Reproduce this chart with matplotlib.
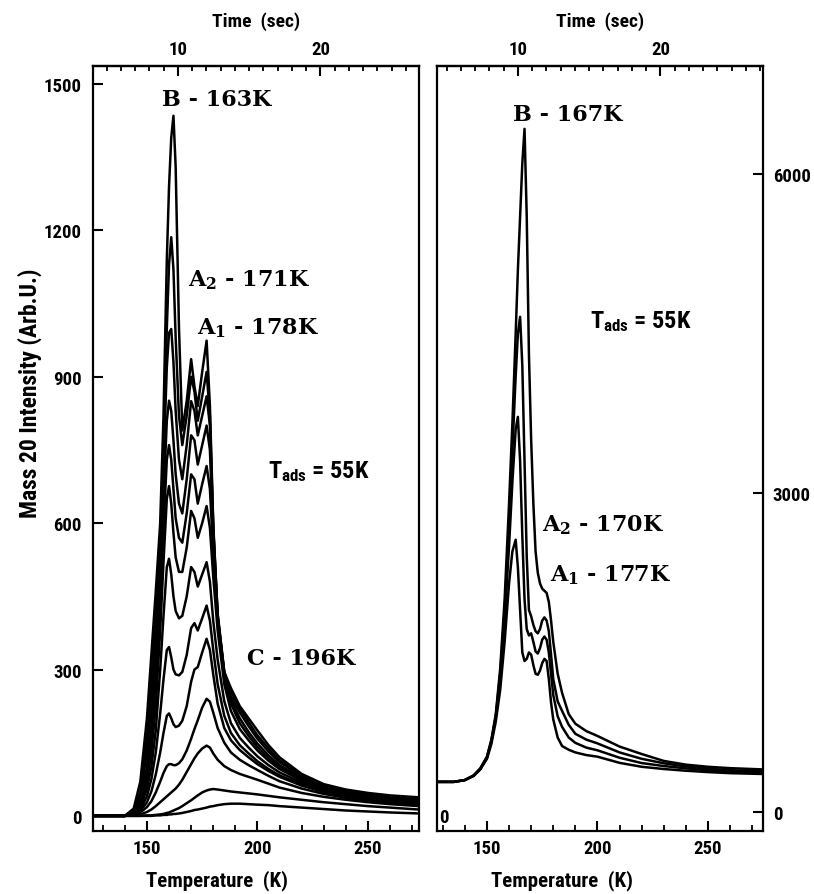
import matplotlib
matplotlib.use("Agg")
import matplotlib.pyplot as plt
from matplotlib.ticker import MultipleLocator, FixedLocator
from matplotlib import font_manager as fm

# ---------------- data ----------------
T_left = [125, 135, 140, 144, 147, 150, 152, 154, 156, 157.5, 159, 160, 161, 162, 163,
          164.5, 166, 168, 170, 171.5, 173, 175, 177, 178.5, 180, 182, 185, 188, 192, 196,
          200, 205, 210, 220, 230, 240, 250, 260, 273]

left_c1 = [0, 0, 0, 0, 0, 0, 0, 1, 1, 2, 2, 3, 3, 4, 4, 5, 6, 8, 10, 12, 13, 15, 17, 19, 20,
           22, 24, 25, 25, 24, 23, 22, 20, 17, 14, 11, 9, 7, 5]
left_c2 = [0, 0, 0, 0, 0, 1, 1, 2, 3, 4, 6, 7, 9, 11, 13, 16, 20, 26, 32, 37, 42, 48, 52, 54, 55,
           54, 52, 50, 48, 46, 44, 41, 38, 33, 28, 24, 20, 17, 13]
left_c3 = [0, 0, 0, 1, 3, 8, 13, 20, 28, 34, 40, 44, 48, 52, 56, 64, 74, 90, 106, 118, 128, 138, 144, 140, 128,
           115, 102, 94, 86, 80, 74, 66, 58, 47, 39, 33, 28, 24, 20]
left_c4 = [0, 0, 0, 2, 7, 18, 30, 48, 70, 88, 102, 106, 106, 104, 104, 108, 116, 134, 158, 178, 196, 222, 240, 234, 212,
           180, 150, 130, 115, 104, 94, 82, 71, 56, 45, 37, 31, 27, 22]
left_c5 = [0, 0, 0, 3, 10, 28, 50, 85, 130, 170, 205, 210, 200, 188, 182, 185, 195, 225, 275, 300, 305, 335, 363, 340, 290,
           230, 180, 155, 135, 120, 106, 92, 80, 62, 49, 40, 33, 28, 24]
left_c6 = [0, 0, 0, 4, 14, 40, 75, 130, 210, 280, 340, 346, 325, 300, 290, 288, 295, 330, 385, 395, 380, 405, 431, 400, 340,
           270, 205, 170, 145, 128, 112, 96, 83, 64, 50, 41, 34, 29, 25]
left_c7 = [0, 0, 0, 5, 18, 55, 100, 175, 300, 410, 510, 527, 495, 450, 420, 405, 410, 450, 510, 500, 470, 495, 520, 480, 400,
           320, 235, 190, 160, 140, 122, 104, 89, 68, 53, 43, 36, 31, 27]
left_c8 = [0, 0, 0, 6, 22, 70, 130, 225, 380, 520, 650, 676, 640, 580, 530, 500, 500, 550, 625, 610, 570, 600, 635, 590, 490,
           380, 270, 215, 178, 155, 134, 113, 96, 72, 56, 45, 38, 33, 28]
left_c9 = [0, 0, 0, 7, 26, 85, 160, 270, 430, 590, 730, 760, 730, 670, 610, 570, 560, 620, 700, 690, 640, 680, 717, 670, 540,
           400, 285, 230, 190, 164, 141, 118, 100, 75, 58, 47, 40, 34, 29]
left_c10 = [0, 0, 0, 8, 30, 100, 185, 310, 480, 650, 810, 851, 830, 770, 700, 640, 620, 690, 780, 770, 720, 760, 800, 750, 570,
            410, 290, 238, 200, 172, 148, 124, 104, 78, 60, 49, 41, 35, 30]
left_c11 = [0, 0, 0, 10, 40, 130, 230, 360, 520, 720, 920, 990, 998, 930, 830, 730, 690, 760, 850, 830, 780, 820, 860, 800, 590,
            415, 295, 245, 212, 184, 158, 132, 110, 82, 62, 50, 43, 37, 32]
left_c12 = [0, 0, 0, 12, 50, 160, 280, 410, 560, 760, 1000, 1130, 1186, 1120, 980, 820, 760, 820, 900, 870, 810, 860, 910, 820, 590,
            405, 292, 255, 220, 192, 165, 138, 114, 84, 64, 52, 44, 38, 34]
left_c13 = [0, 0, 0, 15, 70, 200, 330, 460, 600, 820, 1140, 1290, 1390, 1435, 1330, 1000, 790, 850, 936, 880, 840, 910, 974, 840, 600,
            410, 295, 262, 225, 200, 175, 145, 120, 86, 65, 54, 47, 42, 38]

T_right = [127, 135, 140, 144, 147, 150, 152, 154, 156, 158, 160, 161.5, 163, 164, 165, 166, 167, 168, 169, 170,
           171, 172, 173, 174, 175, 176, 177, 178, 179, 180, 182, 184, 187, 190, 195, 200, 210, 220, 230, 240,
           250, 260, 275]

right_c1 = [283, 283, 300, 340, 400, 500, 640, 850, 1150, 1600, 2150, 2450, 2560, 2300, 1900, 1500, 1420, 1440, 1500, 1480,
            1380, 1300, 1290, 1330, 1400, 1440, 1420, 1250, 1030, 870, 700, 620, 585, 560, 535, 520, 462, 425, 404, 388,
            375, 365, 357]
right_c2 = [283, 283, 300, 340, 405, 510, 660, 890, 1250, 1800, 2500, 3100, 3600, 3716, 3300, 2600, 2000, 1720, 1660, 1680,
            1600, 1510, 1490, 1540, 1620, 1650, 1620, 1500, 1300, 1100, 900, 800, 700, 650, 605, 580, 510, 460, 432, 410,
            392, 380, 370]
right_c3 = [283, 283, 300, 342, 408, 515, 670, 900, 1300, 1900, 2700, 3400, 4100, 4500, 4657, 4200, 3300, 2400, 1900, 1840,
            1760, 1700, 1680, 1720, 1800, 1830, 1800, 1700, 1480, 1250, 1040, 950, 820, 735, 680, 645, 560, 500, 458, 428,
            408, 393, 382]
right_c4 = [283, 283, 300, 345, 410, 520, 680, 920, 1350, 2000, 2900, 3650, 4500, 5100, 5600, 6100, 6425, 5600, 4300, 3500,
            2900, 2450, 2250, 2150, 2100, 2080, 2060, 1975, 1800, 1600, 1300, 1120, 920, 830, 760, 715, 615, 545, 480, 445,
            425, 412, 400]

left_yticks = [0, 300, 600, 900, 1200, 1500]
right_yticks = [0, 3000, 6000]
temp_ticks = [150, 200, 250]
time_ticks = [10, 20]

# heating: T = T0 + rate * t
T0, RATE = 99.5, 6.45

# ---------------- fonts ----------------
def pick(names):
    for n in names:
        try:
            fm.findfont(fm.FontProperties(family=n), fallback_to_default=False)
            return n
        except Exception:
            pass
    return "DejaVu Sans"

SANS = pick(["Liberation Sans Narrow", "Roboto Condensed", "Liberation Sans"])
plt.rcParams["font.family"] = [SANS, "DejaVu Sans"]
plt.rcParams["font.weight"] = "bold"
plt.rcParams["mathtext.fontset"] = "custom"
plt.rcParams["mathtext.rm"] = SANS + ":bold"
plt.rcParams["mathtext.bf"] = SANS + ":bold"
plt.rcParams["mathtext.it"] = SANS + ":bold"

TICKFS = 13.5
W, H = 814, 895
fig = plt.figure(figsize=(W / 100, H / 100), dpi=100)

def frac(x0, x1, ytop, ybot):
    return [x0 / W, 1 - ybot / H, (x1 - x0) / W, (ybot - ytop) / H]

axL = fig.add_axes(frac(93, 419, 67, 832))
axR = fig.add_axes(frac(437, 763, 67, 832))

for c in [left_c1, left_c2, left_c3, left_c4, left_c5, left_c6, left_c7, left_c8,
          left_c9, left_c10, left_c11, left_c12, left_c13]:
    axL.plot(T_left, c, color="black", lw=1.8, solid_joinstyle="round")
for c in [right_c1, right_c2, right_c3, right_c4]:
    axR.plot(T_right, c, color="black", lw=1.8, solid_joinstyle="round")

axL.set_xlim(125.6, 273.1)
axL.set_ylim(-31, 1537)
axR.set_xlim(127.4, 274.9)
axR.set_ylim(-179, 7016)

def t2T(t):
    return T0 + RATE * t

def T2t(T):
    return (T - T0) / RATE

for ax in (axL, axR):
    for s in ax.spines.values():
        s.set_linewidth(1.6)
    ax.xaxis.set_major_locator(FixedLocator(temp_ticks))
    ax.xaxis.set_minor_locator(MultipleLocator(10))
    ax.tick_params(axis="x", which="major", direction="in", length=7, width=1.5,
                   labelsize=TICKFS, pad=6, top=False)
    ax.tick_params(axis="x", which="minor", direction="in", length=4, width=1.3, top=False)
    ax.set_xlabel("Temperature  (K)", fontsize=15, fontweight="bold")
    sec = ax.secondary_xaxis("top", functions=(T2t, t2T))
    sec.xaxis.set_major_locator(FixedLocator(time_ticks))
    sec.xaxis.set_minor_locator(MultipleLocator(1))
    sec.tick_params(axis="x", which="major", direction="in", length=7, width=1.5,
                    labelsize=TICKFS, pad=6)
    sec.tick_params(axis="x", which="minor", direction="in", length=3.5, width=1.3)
    sec.spines["top"].set_linewidth(1.6)
    sec.set_xlabel("Time  (sec)", fontsize=14, fontweight="bold", labelpad=10)

axL.yaxis.set_major_locator(FixedLocator(left_yticks))
axL.yaxis.set_minor_locator(FixedLocator([]))
axL.tick_params(axis="y", direction="in", length=7, width=1.5, labelsize=TICKFS, pad=8,
                left=True, right=False)
axL.set_ylabel("Mass 20 Intensity (Arb.U.)", fontsize=17, fontweight="bold")
axL.yaxis.set_label_coords(-0.157, 0.574)
axL.xaxis.set_label_coords(0.38, -0.050)

axR.yaxis.set_major_locator(FixedLocator(right_yticks))
axR.tick_params(axis="y", direction="in", length=7, width=1.5, labelsize=TICKFS, pad=7,
                left=False, right=True, labelleft=False, labelright=True)
axR.xaxis.set_label_coords(0.383, -0.050)

# ---------------- annotations ----------------
serif = dict(fontfamily="DejaVu Serif", fontweight="bold", fontsize=16,
             math_fontfamily="dejavuserif", ha="left", va="center")
sans = dict(fontsize=17.5, fontweight="bold", ha="left", va="center")

axL.text(156.8, 1469, "B - 163K", **serif)
axL.text(168.6, 1100, r"A$_\mathbf{2}$ - 171K", **serif)
axL.text(172.6, 1002, r"A$_\mathbf{1}$ - 178K", **serif)
axL.text(195.2, 324, "C - 196K", **serif)
axL.text(204.8, 707, r"T$_\mathrm{ads}$ = 55K", **sans)

axR.text(161.8, 6564, "B - 167K", **serif)
axR.text(196.6, 4618, r"T$_\mathrm{ads}$ = 55K", **sans)
axR.text(174.9, 2709, r"A$_\mathbf{2}$ - 170K", **serif)
axR.text(178.5, 2238, r"A$_\mathbf{1}$ - 177K", **serif)
axR.text(128.2, -47, "0", fontsize=TICKFS, fontweight="bold", ha="left", va="center")

fig.savefig("out.png", dpi=100)
